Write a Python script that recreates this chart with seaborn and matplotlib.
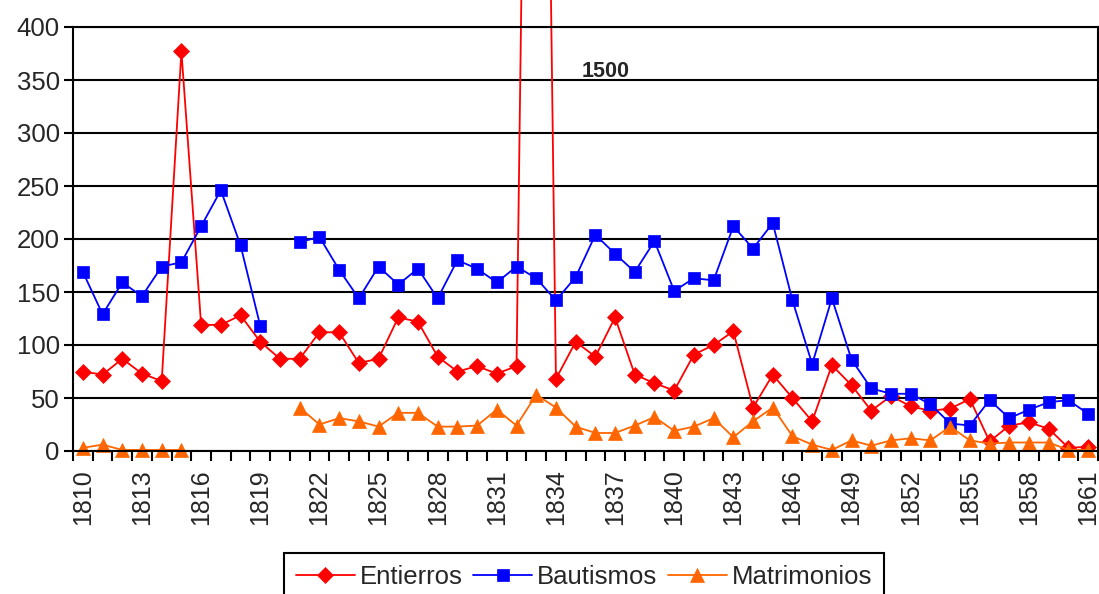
import numpy as np
import pandas as pd
import matplotlib
matplotlib.use("Agg")
import matplotlib.pyplot as plt
import seaborn as sns

# ── DATOS ────────────────────────────────────────────────────
years = list(range(1810, 1862))

entierros = [75, 72, 87, 73, 66, 377, 119, 119, 128, 103,
             87, 87, 112, 112, 83, 87, 126, 122, 89, 75,
             80, 73, 80, 1500, 68, 103, 89, 126, 72, 64,
             57, 91, 100, 113, 41, 72, 50, 28, 81, 62,
             38, 52, 42, 38, 40, 49, 9, 24, 27, 21,
             3, 4]

bautismos = [169, 129, 159, 146, 174, 178, 212, 246, 194, 118,
             np.nan, 197, 202, 171, 144, 174, 157, 172, 144, 180,
             172, 159, 174, 163, 142, 164, 204, 186, 169, 198,
             151, 163, 161, 212, 191, 215, 142, 82, 144, 86,
             59, 54, 54, 44, 26, 24, 48, 31, 39, 46,
             48, 35]

matrimonios = [3, 6, 1, 1, 1, 1, np.nan, np.nan, np.nan, np.nan,
               np.nan, 41, 25, 31, 28, 23, 36, 36, 23, 23,
               24, 39, 24, 53, 41, 23, 17, 17, 24, 32,
               19, 23, 31, 13, 28, 41, 14, 6, 1, 10,
               5, 10, 12, 10, 23, 10, 7, 8, 8, 8,
               1, 1]

series = {
    "Entierros": (entierros, "#FF0000", "D", 8.5),
    "Bautismos": (bautismos, "#0000FF", "s", 8.5),
    "Matrimonios": (matrimonios, "#FF6600", "^", 10),
}

# ── ESTILO ───────────────────────────────────────────────────
sns.set_style("white")
plt.rcParams["font.family"] = ["Liberation Sans", "DejaVu Sans"]

fig = plt.figure(figsize=(10.99, 5.94), dpi=100)
ax = fig.add_axes([73 / 1099, 1 - 451 / 594, (1098 - 73) / 1099, (451 - 27) / 594])

# ── LINEAS (cortadas donde faltan datos) ─────────────────────
for name, (vals, color, marker, ms) in series.items():
    df = pd.DataFrame({"year": years, "value": vals})
    df["seg"] = df["value"].isna().cumsum()
    df = df.dropna()
    first = True
    for seg, sub in df.groupby("seg"):
        sns.lineplot(data=sub, x="year", y="value", ax=ax, color=color,
                     marker=marker, markersize=ms, markeredgecolor=color,
                     markeredgewidth=0.5, linewidth=1.3, clip_on=False,
                     label=name if first else "_nolegend_", legend=False)
        first = False

ax.text(1836.5, 358, "1500", fontsize=15.5, fontweight="bold",
        ha="center", va="center")

# ── EJES ─────────────────────────────────────────────────────
ax.set_xlim(1809.5, 1861.5)
ax.set_ylim(0, 400)
ax.set_yticks(range(0, 401, 50))
ax.set_xticks(years[::3])
ax.set_xticklabels([str(y) for y in years[::3]], rotation=90, fontsize=18)
ax.set_xticks(np.arange(1809.5, 1862, 1), minor=True)
ax.tick_params(axis="x", which="major", length=0, pad=13)
ax.tick_params(axis="x", which="minor", length=7, width=1.5, direction="out",
               color="black", bottom=True)
ax.tick_params(axis="y", length=6.5, width=1.5, direction="out",
               color="black", labelsize=18.5, pad=3, left=True)
ax.set_xlabel("")
ax.set_ylabel("")
ax.yaxis.grid(True, color="black", linewidth=1.5)
ax.xaxis.grid(False)
ax.set_axisbelow(True)
for sp in ax.spines.values():
    sp.set_color("black")
    sp.set_linewidth(1.5)

# ── LEYENDA ──────────────────────────────────────────────────
handles, labels = ax.get_legend_handles_labels()
leg = fig.legend(handles, labels, loc="upper center",
                 bbox_to_anchor=(0.5315, 1 - 553 / 594), ncol=3,
                 frameon=True, fancybox=False, edgecolor="black",
                 framealpha=1, fontsize=18.5, handlelength=2.3,
                 handletextpad=0.2, columnspacing=0.4, borderpad=0.45,
                 borderaxespad=0)
leg.get_frame().set_linewidth(1.5)

fig.savefig("out.png", dpi=100)
